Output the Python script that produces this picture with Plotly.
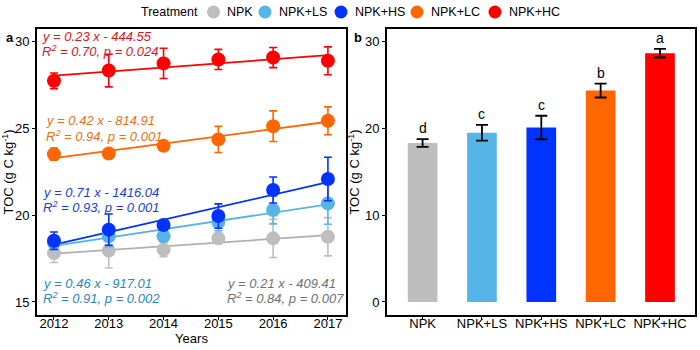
import numpy as np
import plotly.graph_objects as go

years = [2012, 2013, 2014, 2015, 2016, 2017]
treatments = ["NPK", "NPK+LS", "NPK+HS", "NPK+LC", "NPK+HC"]
colors = ["#bebebe", "#56b4e9", "#0033ff", "#ff6600", "#ff0000"]
eq_colors = ["#707070", "#1f8ac0", "#1a3fd6", "#e8701a", "#e0141e"]

toc_npk = [17.82, 17.95, 18.01, 18.66, 18.66, 18.75]
toc_ls = [18.40, 18.78, 18.78, 19.60, 20.29, 20.67]
toc_hs = [18.52, 19.16, 19.43, 19.94, 21.44, 22.07]
toc_lc = [23.50, 23.54, 23.98, 24.35, 25.11, 25.42]
toc_hc = [27.72, 28.31, 28.72, 28.95, 29.06, 28.87]

err_npk = [0.55, 1.00, 0.40, 0.30, 1.10, 1.10]
err_ls = [0.30, 0.60, 0.30, 0.50, 0.80, 1.20]
err_hs = [0.50, 0.90, 0.30, 0.70, 0.75, 1.25]
err_lc = [0.35, 0.15, 0.10, 0.75, 0.88, 0.80]
err_hc = [0.45, 0.94, 0.87, 0.58, 0.58, 0.80]

series = [toc_npk, toc_ls, toc_hs, toc_lc, toc_hc]
errors = [err_npk, err_ls, err_hs, err_lc, err_hc]

equations = [
    ("y = 0.21 x - 409.41", "R<sup>2</sup> = 0.84, p = 0.007"),
    ("y = 0.46 x - 917.01", "R<sup>2</sup> = 0.91, p = 0.002"),
    ("y = 0.71 x - 1416.04", "R<sup>2</sup> = 0.93, p = 0.001"),
    ("y = 0.42 x - 814.91", "R<sup>2</sup> = 0.94, p = 0.001"),
    ("y = 0.23 x - 444.55", "R<sup>2</sup> = 0.70, p = 0.024"),
]

mean_toc = [18.28, 19.46, 20.07, 24.32, 28.62]
mean_err = [0.45, 0.90, 1.35, 0.80, 0.50]
letters = ["d", "c", "c", "b", "a"]

FONT = "Liberation Sans, Arial, sans-serif"
W, H = 700, 350

fig = go.Figure()

# Regression lines (fit from the point data)
xs = np.array(years, dtype=float)
for i in range(5):
    k, b = np.polyfit(xs, np.array(series[i]), 1)
    fig.add_trace(go.Scatter(
        x=[years[0], years[-1]], y=[k * years[0] + b, k * years[-1] + b],
        mode="lines", line=dict(color=colors[i] if i != 0 else "#b0b0b0", width=1.8),
        xaxis="x", yaxis="y", showlegend=False, hoverinfo="skip"))

# Points with error bars
for i in range(5):
    fig.add_trace(go.Scatter(
        x=years, y=series[i], mode="markers", name=treatments[i],
        marker=dict(color=colors[i], size=14),
        error_y=dict(type="data", array=errors[i], color=colors[i], thickness=1.6, width=4),
        xaxis="x", yaxis="y", showlegend=False))

# Bars
fig.add_trace(go.Bar(
    x=treatments, y=mean_toc, marker=dict(color=colors, line=dict(width=0)),
    width=0.5,
    error_y=dict(type="data", array=mean_err, color="black", thickness=1.8, width=6),
    xaxis="x2", yaxis="y2", showlegend=False))

ann = []
shapes = []
# Equation labels (left panel), positions in paper pixels
eq_pos = [
    (225, 283, 298),  # NPK
    (41, 283, 298),   # LS
    (41, 192, 207),   # HS
    (44, 120, 136),   # LC
    (40, 36, 51),     # HC
]
for i in range(5):
    x, y1, y2 = eq_pos[i]
    for txt, yy in ((equations[i][0], y1), (equations[i][1], y2)):
        ann.append(dict(text="<i>" + txt + "</i>", x=x / W, y=1 - yy / H, xref="paper", yref="paper",
                        xanchor="left", yanchor="middle", showarrow=False,
                        font=dict(size=13, color=eq_colors[i], family=FONT)))

# Significance letters
for i in range(5):
    ann.append(dict(text=letters[i], x=treatments[i], y=mean_toc[i] + mean_err[i], xref="x2", yref="y2",
                    yanchor="bottom", showarrow=False, yshift=1,
                    font=dict(size=14, color="black", family=FONT)))

# Panel labels
ann.append(dict(text="<b>a</b>", x=4 / W, y=1 - 37 / H, xref="paper", yref="paper", xanchor="left",
                yanchor="middle", showarrow=False, font=dict(size=13, color="black", family=FONT)))
ann.append(dict(text="<b>b</b>", x=352 / W, y=1 - 37 / H, xref="paper", yref="paper", xanchor="left",
                yanchor="middle", showarrow=False, font=dict(size=13, color="black", family=FONT)))

# Custom legend (key circles + labels), pixel layout
leg_y = 12
leg_key_x = [213.5, 265, 341, 417, 495]
leg_r = 6.5
ann.append(dict(text="Treatment", x=200 / W, y=1 - leg_y / H, xref="paper", yref="paper", xanchor="right",
                yanchor="middle", showarrow=False, font=dict(size=12.5, color="black", family=FONT)))
for i in range(5):
    cx = leg_key_x[i]
    shapes.append(dict(type="circle", xref="paper", yref="paper",
                       x0=(cx - leg_r) / W, x1=(cx + leg_r) / W,
                       y0=1 - (leg_y + leg_r) / H, y1=1 - (leg_y - leg_r) / H,
                       fillcolor=colors[i], line=dict(width=0)))
    ann.append(dict(text=treatments[i], x=(cx + 12) / W, y=1 - leg_y / H, xref="paper", yref="paper",
                    xanchor="left", yanchor="middle", showarrow=False,
                    font=dict(size=12.5, color="black", family=FONT)))

axis_common = dict(showline=True, linecolor="black", linewidth=2, mirror=True, ticks="outside",
                   ticklen=3, tickcolor="black", tickwidth=1, showgrid=False, zeroline=False,
                   tickfont=dict(size=13, color="black", family=FONT))

ytitle = "TOC (g C kg<sup>-1</sup>)"

fig.update_layout(
    width=W, height=H, margin=dict(l=0, r=0, t=0, b=0),
    paper_bgcolor="white", plot_bgcolor="white",
    font=dict(family=FONT, size=13, color="black"),
    showlegend=False,
    xaxis=dict(domain=[37 / W, 346 / W], range=[2011.69, 2017.33], tickvals=years, anchor="y",
               ticklabelstandoff=-8,
               title=dict(text="Years", standoff=1, font=dict(size=13)), **axis_common),
    yaxis=dict(domain=[1 - 315 / H, 1 - 29 / H], range=[14.25, 30.7], tickvals=[15, 20, 25, 30], anchor="x",
               title=dict(text=ytitle, standoff=2, font=dict(size=13)), **axis_common),
    xaxis2=dict(domain=[387 / W, 695 / W], range=[-0.6, 4.59], anchor="y2", ticklabelstandoff=-8,
                **axis_common),
    yaxis2=dict(domain=[1 - 315 / H, 1 - 29 / H], range=[-1.5, 31.4], tickvals=[0, 10, 20, 30], anchor="x2",
                title=dict(text=ytitle, standoff=2, font=dict(size=13)), **axis_common),
    annotations=ann,
    shapes=shapes,
)

fig.write_html("out.html")
